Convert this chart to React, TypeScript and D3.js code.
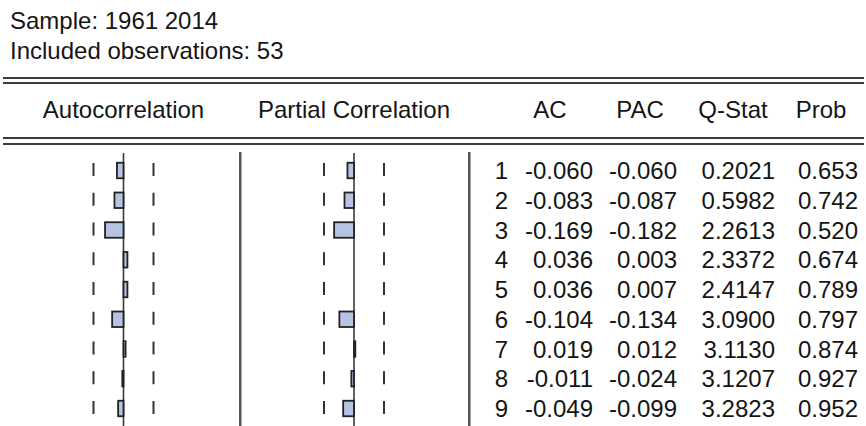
import React from "react";
import * as d3 from "d3";

const sampleText = "Sample: 1961 2014";
const obsText = "Included observations: 53";
const nObs = 53;
const headers = ["AC", "PAC", "Q-Stat", "Prob"];
const lags = [1, 2, 3, 4, 5, 6, 7, 8, 9];
const acValues = [-0.06, -0.083, -0.169, 0.036, 0.036, -0.104, 0.019, -0.011, -0.049];
const pacValues = [-0.06, -0.087, -0.182, 0.003, 0.007, -0.134, 0.012, -0.024, -0.099];
const qStat = [0.2021, 0.5982, 2.2613, 2.3372, 2.4147, 3.09, 3.113, 3.1207, 3.2823];
const probValues = [0.653, 0.742, 0.52, 0.674, 0.789, 0.797, 0.874, 0.927, 0.952];

const W = 866;
const H = 426;
const FONT = "'Liberation Sans', Arial, sans-serif";
const TXT = "#151515";

export default function App() {
  const band = 2 / Math.sqrt(nObs);
  const pxPerUnit = 30 / band;
  const acCenter = 123.5;
  const pacCenter = 354;
  const xAC = d3.scaleLinear().domain([-1, 1]).range([acCenter - pxPerUnit, acCenter + pxPerUnit]);
  const xPAC = d3.scaleLinear().domain([-1, 1]).range([pacCenter - pxPerUnit, pacCenter + pxPerUnit]);
  const yBase = d3.scaleLinear().domain([1, 9]).range([179, 417]);
  const f3 = d3.format(".3f");
  const f4 = d3.format(".4f");

  const colRight = [593, 677, 775, 858];
  const headerCenter = [550, 640, 733, 821];

  const panel = (x: d3.ScaleLinear<number, number>, vals: number[], key: string) => (
    <g key={key}>
      <line x1={x(0)} x2={x(0)} y1={153} y2={H} stroke="#3a3a3a" strokeWidth={1.6} />
      {lags.map((lag) => {
        const b = yBase(lag);
        return (
          <g key={lag}>
            <line x1={x(-band)} x2={x(-band)} y1={b - 16} y2={b - 3} stroke="#333" strokeWidth={2} />
            <line x1={x(band)} x2={x(band)} y1={b - 16} y2={b - 3} stroke="#333" strokeWidth={2} />
          </g>
        );
      })}
      {lags.map((lag, i) => {
        const v = vals[i];
        if (Math.abs(v) < 0.01) return null;
        const b = yBase(lag);
        const x0 = x(0);
        const x1 = x(v);
        const w = Math.max(Math.abs(x1 - x0), 1);
        const left = v < 0 ? x0 - w : x0;
        return (
          <rect key={"b" + lag} x={left} y={b - 16.25} width={w} height={15.5}
            fill="#b7c3e3" stroke="#222" strokeWidth={1.8} />
        );
      })}
    </g>
  );

  return (
    <svg width={W} height={H} style={{ position: "absolute", left: 0, top: 0, background: "#fff" }}
      fontFamily={FONT} fontSize={24}>
      <rect x={0} y={0} width={W} height={H} fill="#fff" />
      <text x={10} y={29} fill={TXT}>{sampleText}</text>
      <text x={10} y={59} fill={TXT}>{obsText}</text>
      <rect x={3} y={77} width={861} height={2} fill="#3c3c3c" />
      <rect x={3} y={82} width={861} height={2} fill="#3c3c3c" />
      <text x={acCenter} y={118} textAnchor="middle" fill={TXT}>Autocorrelation</text>
      <text x={pacCenter} y={118} textAnchor="middle" fill={TXT}>Partial Correlation</text>
      {headers.map((h, i) => (
        <text key={h} x={headerCenter[i]} y={118} textAnchor="middle" fill={TXT}>{h}</text>
      ))}
      <rect x={3} y={137} width={861} height={2} fill="#3c3c3c" />
      <rect x={3} y={143} width={861} height={2} fill="#3c3c3c" />
      <rect x={239} y={152} width={2.5} height={H - 152} fill="#555" />
      <rect x={468} y={152} width={2.5} height={H - 152} fill="#555" />
      {panel(xAC, acValues, "ac")}
      {panel(xPAC, pacValues, "pac")}
      {lags.map((lag, i) => {
        const b = yBase(lag);
        return (
          <g key={"r" + lag} fill={TXT} textAnchor="end">
            <text x={508} y={b}>{lag}</text>
            <text x={colRight[0]} y={b}>{f3(acValues[i]).replace("−", "-")}</text>
            <text x={colRight[1]} y={b}>{f3(pacValues[i]).replace("−", "-")}</text>
            <text x={colRight[2]} y={b}>{f4(qStat[i])}</text>
            <text x={colRight[3]} y={b}>{f3(probValues[i])}</text>
          </g>
        );
      })}
    </svg>
  );
}
